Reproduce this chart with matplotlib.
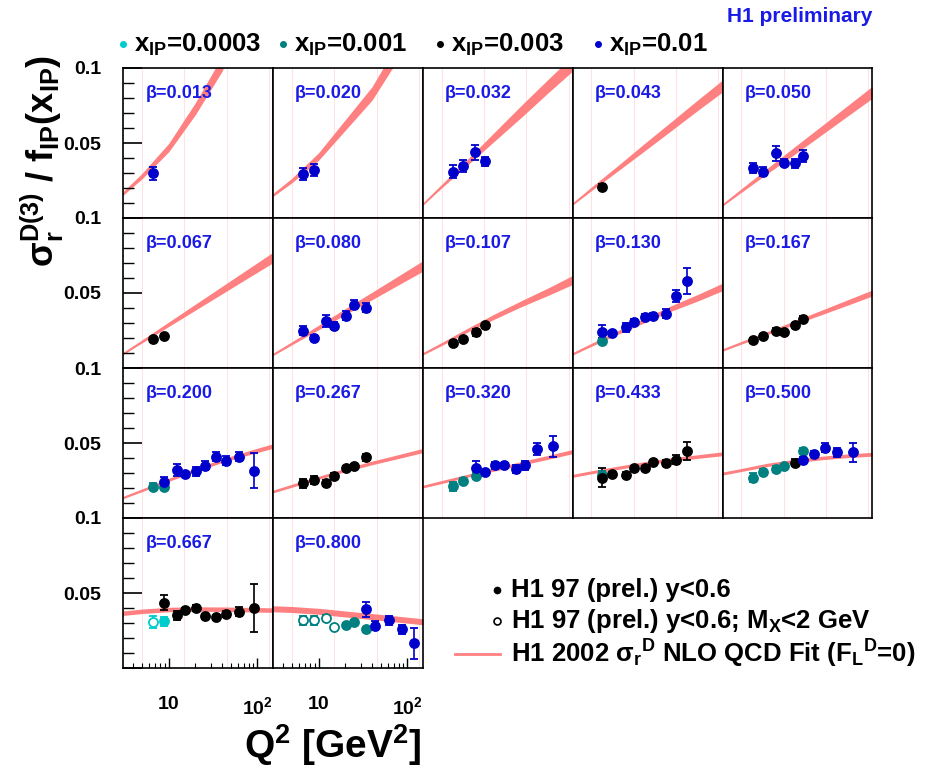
import numpy as np
import matplotlib
matplotlib.use("Agg")
import matplotlib.pyplot as plt
from matplotlib.ticker import FixedLocator, MultipleLocator, NullFormatter, NullLocator, FixedFormatter

plt.rcParams['font.family'] = ['Liberation Sans', 'DejaVu Sans']
plt.rcParams['font.weight'] = 'bold'
plt.rcParams['mathtext.fontset'] = 'custom'
plt.rcParams['mathtext.rm'] = 'Liberation Sans:bold'
plt.rcParams['mathtext.it'] = 'Liberation Sans:bold'
plt.rcParams['mathtext.bf'] = 'Liberation Sans:bold'
plt.rcParams['mathtext.sf'] = 'Liberation Sans:bold'
plt.rcParams['mathtext.default'] = 'bf'

betas = ["0.013", "0.020", "0.032", "0.043", "0.050",
         "0.067", "0.080", "0.107", "0.130", "0.167",
         "0.200", "0.267", "0.320", "0.433", "0.500",
         "0.667", "0.800"]

xip_labels = ["0.0003", "0.001", "0.003", "0.01"]
xip_colors = ["#00cccc", "#008080", "black", "#0000cc"]

# NLO QCD fit band: centre and half width at these Q2 values
fit_q2 = [3, 5, 10, 20, 40, 80, 150]
fit_mid = [
    [0.016, 0.028, 0.047, 0.073, 0.103, 0.150, 0.200],
    [0.015, 0.025, 0.041, 0.062, 0.083, 0.112, 0.145],
    [0.0088, 0.0213, 0.0378, 0.0546, 0.0714, 0.0882, 0.103],
    [0.009, 0.0195, 0.0333, 0.0474, 0.0614, 0.0755, 0.088],
    [0.0083, 0.0183, 0.0317, 0.045, 0.0583, 0.0717, 0.0838],
    [0.0094, 0.0178, 0.0292, 0.0406, 0.052, 0.0634, 0.0737],
    [0.0088, 0.0165, 0.027, 0.0376, 0.048, 0.0585, 0.068],
    [0.0092, 0.016, 0.0255, 0.0345, 0.043, 0.051, 0.0587],
    [0.0092, 0.0155, 0.0238, 0.0318, 0.0398, 0.047, 0.054],
    [0.0118, 0.0168, 0.0235, 0.0303, 0.037, 0.0438, 0.050],
    [0.0135, 0.0185, 0.0255, 0.032, 0.0382, 0.0435, 0.048],
    [0.0175, 0.0215, 0.0268, 0.032, 0.0367, 0.041, 0.045],
    [0.0208, 0.024, 0.0283, 0.0325, 0.0365, 0.0405, 0.0443],
    [0.028, 0.0305, 0.0335, 0.0365, 0.039, 0.041, 0.0428],
    [0.0295, 0.032, 0.0355, 0.038, 0.040, 0.0415, 0.0425],
    [0.0365, 0.0378, 0.039, 0.0393, 0.0392, 0.0389, 0.0386],
    [0.0395, 0.039, 0.0378, 0.036, 0.0343, 0.0325, 0.0308],
]
fit_hw = [
    [0.0012, 0.0018, 0.0028, 0.004, 0.005, 0.006, 0.007],
    [0.001, 0.0015, 0.0025, 0.0035, 0.0045, 0.0055, 0.0065],
    [0.0008, 0.0012, 0.002, 0.003, 0.004, 0.0045, 0.005],
    [0.0008, 0.0012, 0.0018, 0.0025, 0.003, 0.0035, 0.004],
    [0.0008, 0.0012, 0.0018, 0.0025, 0.003, 0.0035, 0.004],
    [0.0008, 0.001, 0.0015, 0.002, 0.0025, 0.003, 0.0035],
    [0.0008, 0.001, 0.0015, 0.002, 0.0025, 0.003, 0.0035],
    [0.0008, 0.001, 0.0013, 0.0017, 0.002, 0.0025, 0.003],
    [0.0008, 0.001, 0.0012, 0.0015, 0.0018, 0.0022, 0.0025],
    [0.0008, 0.0009, 0.001, 0.0012, 0.0015, 0.0018, 0.002],
    [0.0008, 0.0009, 0.001, 0.0011, 0.0012, 0.0014, 0.0015],
    [0.0009, 0.001, 0.001, 0.0011, 0.0012, 0.0013, 0.0014],
    [0.0009, 0.001, 0.001, 0.0011, 0.0012, 0.0013, 0.0014],
    [0.001, 0.001, 0.0011, 0.0011, 0.0012, 0.0012, 0.0013],
    [0.001, 0.001, 0.0011, 0.0011, 0.0012, 0.0012, 0.0013],
    [0.0015, 0.0015, 0.0015, 0.0015, 0.0015, 0.0015, 0.0015],
    [0.002, 0.002, 0.002, 0.002, 0.002, 0.002, 0.002],
]

# measured points per beta bin
pt_q2 = [
    [6.7],
    [6.7, 8.8],
    [6.7, 8.6, 12.0, 15.4],
    [6.6],
    [6.7, 8.9, 12.3, 15.0, 20.2, 24.9],
    [6.7, 8.8],
    [6.7, 8.8, 12.2, 15.0, 20.2, 24.9, 34.2],
    [6.7, 8.6, 12.2, 15.4],
    [6.6, 6.6, 8.5, 12.2, 15.0, 19.9, 24.5, 34.2, 44.5, 59.8],
    [6.7, 8.9, 12.3, 15.0, 20.2, 24.9],
    [6.7, 8.8, 8.8, 12.4, 15.4, 20.2, 25.3, 34.5, 44.0, 61.6, 91.0],
    [6.7, 8.8, 12.2, 15.0, 20.2, 24.9, 34.2],
    [6.7, 8.6, 12.2, 12.2, 15.4, 20.2, 24.9, 34.2, 43.6, 59.8, 90.0],
    [6.6, 6.6, 8.5, 12.2, 15.0, 19.9, 24.5, 34.2, 44.5, 59.8],
    [6.7, 8.9, 12.3, 15.0, 20.2, 24.9, 24.9, 33.0, 44.0, 60.0, 90.0],
    [6.7, 8.8, 8.8, 12.4, 15.4, 20.2, 25.3, 34.5, 44.0, 61.6, 91.0],
    [6.7, 8.8, 12.2, 15.0, 20.2, 24.9, 34.2, 34.2, 43.6, 61.6, 88.0, 119.0],
]
pt_val = [
    [0.0298],
    [0.0291, 0.0320],
    [0.0309, 0.0349, 0.0438, 0.0380],
    [0.0205],
    [0.0335, 0.0309, 0.0431, 0.0369, 0.0364, 0.0413],
    [0.0191, 0.0213],
    [0.0249, 0.0202, 0.0313, 0.0282, 0.0349, 0.0420, 0.0402],
    [0.0165, 0.0196, 0.0238, 0.0284],
    [0.0182, 0.0242, 0.0233, 0.0271, 0.0309, 0.0342, 0.0349, 0.0362, 0.0482, 0.0580],
    [0.0187, 0.0213, 0.0249, 0.0238, 0.0287, 0.0329],
    [0.0209, 0.0209, 0.0242, 0.0320, 0.0293, 0.0313, 0.0347, 0.0409, 0.0382, 0.0409, 0.0316],
    [0.0231, 0.0253, 0.0231, 0.0282, 0.0331, 0.0347, 0.0404],
    [0.0213, 0.0249, 0.0280, 0.0336, 0.0307, 0.0351, 0.0353, 0.0327, 0.0351, 0.0458, 0.0480],
    [0.0285, 0.0269, 0.0291, 0.0287, 0.0331, 0.0331, 0.0371, 0.0364, 0.0387, 0.0447],
    [0.0267, 0.0310, 0.0327, 0.0347, 0.0370, 0.0445, 0.0385, 0.0425, 0.0467, 0.0437, 0.0437],
    [0.0305, 0.0313, 0.0436, 0.0353, 0.0387, 0.0402, 0.0347, 0.0338, 0.0358, 0.0376, 0.0402],
    [0.0320, 0.0320, 0.0331, 0.0276, 0.0287, 0.0309, 0.0258, 0.0391, 0.0282, 0.0320, 0.0260, 0.0165],
]
pt_err = [
    [0.0045],
    [0.004, 0.004],
    [0.0045, 0.004, 0.005, 0.003],
    [0.002],
    [0.0035, 0.003, 0.005, 0.0025, 0.003, 0.004],
    [0.0015, 0.0015],
    [0.003, 0.0015, 0.004, 0.0025, 0.003, 0.003, 0.003],
    [0.0012, 0.0012, 0.0025, 0.0015],
    [0.002, 0.0045, 0.0015, 0.003, 0.002, 0.002, 0.002, 0.003, 0.004, 0.0085],
    [0.0015, 0.0015, 0.0015, 0.0015, 0.0015, 0.0015],
    [0.0025, 0.002, 0.003, 0.004, 0.0015, 0.003, 0.003, 0.003, 0.003, 0.003, 0.0115],
    [0.003, 0.0025, 0.002, 0.0015, 0.0015, 0.0015, 0.0025],
    [0.003, 0.0015, 0.002, 0.0045, 0.0015, 0.0025, 0.0015, 0.0025, 0.003, 0.004, 0.007],
    [0.003, 0.0065, 0.0015, 0.002, 0.0015, 0.0015, 0.0015, 0.002, 0.003, 0.006],
    [0.003, 0.002, 0.002, 0.0015, 0.0025, 0.002, 0.0025, 0.002, 0.003, 0.003, 0.0065],
    [0.004, 0.003, 0.005, 0.003, 0.0015, 0.002, 0.0015, 0.0015, 0.002, 0.003, 0.016],
    [0.003, 0.003, 0.002, 0.001, 0.001, 0.001, 0.0015, 0.005, 0.003, 0.003, 0.003, 0.0105],
]
# index into xip_labels
pt_set = [
    [3],
    [3, 3],
    [3, 3, 3, 3],
    [2],
    [3, 3, 3, 3, 3, 3],
    [2, 2],
    [3, 3, 3, 3, 3, 3, 3],
    [2, 2, 2, 2],
    [1, 3, 3, 3, 3, 3, 3, 3, 3, 3],
    [2, 2, 2, 2, 2, 2],
    [1, 1, 3, 3, 3, 3, 3, 3, 3, 3, 3],
    [2, 2, 2, 2, 2, 2, 2],
    [1, 1, 1, 3, 3, 3, 3, 3, 3, 3, 3],
    [1, 2, 2, 2, 2, 2, 2, 2, 2, 2],
    [1, 1, 1, 1, 2, 1, 3, 3, 3, 3, 3],
    [0, 0, 2, 2, 2, 2, 2, 2, 2, 2, 2],
    [1, 1, 1, 1, 1, 1, 1, 3, 3, 3, 3, 3],
]
# 1 = M_X < 2 GeV (open marker)
pt_open = [
    [0], [0, 0], [0] * 4, [0], [0] * 6, [0, 0], [0] * 7, [0] * 4, [0] * 10,
    [0] * 6, [0] * 11, [0] * 7, [0] * 11, [0] * 10, [0] * 11,
    [1] + [0] * 10,
    [1, 1, 1, 1] + [0] * 8,
]

faint_q2 = [5, 15, 45, 135]

W, H = 944, 767
fig = plt.figure(figsize=(W / 100, H / 100), dpi=100)

x_left, pan_w = 123.3, 149.8
y_top, pan_h = 68.0, 150.0

for i, beta in enumerate(betas):
    r, c = divmod(i, 5)
    ax = fig.add_axes([(x_left + c * pan_w) / W, 1 - (y_top + (r + 1) * pan_h) / H,
                       pan_w / W, pan_h / H])
    ax.set_xscale('log')
    ax.set_xlim(3.07, 150)
    ax.set_ylim(0, 0.1)

    for q in faint_q2:
        ax.axvline(q, color='#ffe2e2', lw=0.8, zorder=0)

    mid = np.array(fit_mid[i])
    hw = np.array(fit_hw[i])
    ax.fill_between(fit_q2, mid - hw, mid + hw, color='#ff8080', lw=0, zorder=1)

    for q, v, e, s, o in zip(pt_q2[i], pt_val[i], pt_err[i], pt_set[i], pt_open[i]):
        col = xip_colors[s]
        ax.errorbar([q], [v], yerr=[e], fmt='o', ms=6.5, color=col,
                    mfc='white' if o else col, mec=col, mew=1.3,
                    capsize=3, elinewidth=1.2, capthick=1.2, zorder=3)

    ax.text(0.147, 0.833, "\u03b2=" + beta, transform=ax.transAxes, color='#1a1ae6',
            fontsize=13, fontweight='bold', ha='left', va='center')

    for sp in ax.spines.values():
        sp.set_linewidth(1.2)

    # y axis only on left column
    if c == 0:
        ax.yaxis.set_major_locator(FixedLocator([0, 0.05, 0.1]))
        ax.yaxis.set_major_formatter(FixedFormatter(['', '0.05', '0.1']))
        ax.yaxis.set_minor_locator(MultipleLocator(0.01))
        ax.tick_params(axis='y', which='major', direction='in', length=14, width=1.2,
                       labelsize=14, pad=16)
        ax.tick_params(axis='y', which='minor', direction='in', length=8, width=1.0)
    else:
        ax.yaxis.set_major_locator(NullLocator())
        ax.yaxis.set_minor_locator(NullLocator())

    # x axis only on bottom row
    if r == 3:
        ax.xaxis.set_major_locator(FixedLocator([10, 100]))
        ax.xaxis.set_major_formatter(FixedFormatter(['10', r'$10^{2}$']))
        ax.xaxis.set_minor_locator(FixedLocator([4, 5, 6, 7, 8, 9, 20, 30, 40, 50, 60, 70, 80, 90]))
        ax.xaxis.set_minor_formatter(NullFormatter())
        ax.tick_params(axis='x', which='major', direction='in', length=7, width=1.0,
                       labelsize=14, pad=20)
        ax.tick_params(axis='x', which='minor', direction='in', length=3.5, width=0.8)
    else:
        ax.xaxis.set_major_locator(NullLocator())
        ax.xaxis.set_minor_locator(NullLocator())

# overlay in pixel coordinates for titles and legends
ov = fig.add_axes([0, 0, 1, 1])
ov.set_xlim(0, W)
ov.set_ylim(H, 0)
ov.axis('off')

ov.text(872, 17, "H1 preliminary", color='#1a1ae6', fontsize=15, ha='right', va='center')

leg_x = [123, 283, 440, 598]
for lx, lab, col in zip(leg_x, xip_labels, xip_colors):
    ov.plot([lx], [44], 'o', ms=4, color=col)
    ov.text(lx + 11, 45, r"x$_{IP}$=" + lab, fontsize=18.5, ha='left', va='center')

ov.plot([497], [590], 'o', ms=4.5, color='black')
ov.text(511, 590, "H1 97 (prel.) y<0.6", fontsize=18.5, ha='left', va='center')
ov.plot([497], [621], 'o', ms=5, mfc='white', mec='black', mew=1.2)
ov.text(511, 621, r"H1 97 (prel.) y<0.6; M$_X$<2 GeV", fontsize=18.5, ha='left', va='center')
ov.plot([455, 500], [654, 654], color='#ff8080', lw=2)
ov.text(511, 654, r"H1 2002 $\sigma_r$$^D$ NLO QCD Fit (F$_L$$^D$=0)", fontsize=18.5,
        ha='left', va='center')

ov.text(42, 55, r"$\sigma_r^{D(3)}$ / f$_{IP}$(x$_{IP}$)", fontsize=26, rotation=90,
        ha='center', va='top')
ov.text(422, 745, r"Q$^2$ [GeV$^2$]", fontsize=28, ha='right', va='center')

fig.savefig("out.png", dpi=100)
